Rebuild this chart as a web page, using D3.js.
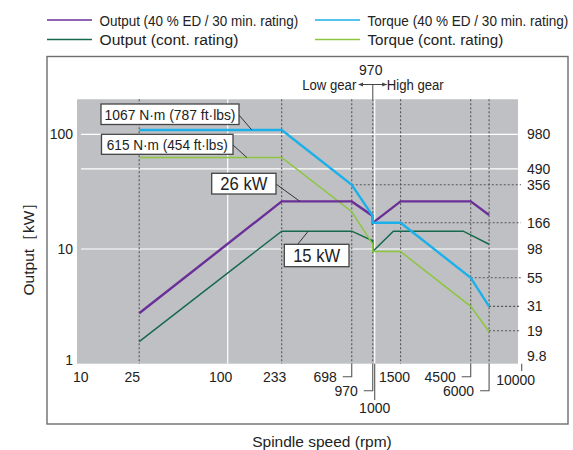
<!DOCTYPE html>
<html>
<head>
<meta charset="utf-8">
<script src="https://cdn.jsdelivr.net/npm/d3@7"></script>
<style>
  html, body { margin: 0; padding: 0; background: #fff; }
  svg { display: block; }
  text { font-family: "Liberation Sans", Arial, sans-serif; fill: #222; }
</style>
</head>
<body>
<svg id="chart" width="573" height="450"></svg>
<script>
/* ── datos ── */
// velocidades (rpm) de cada curva: engranaje bajo hasta 970, alto desde 970
const rpmOutput40   = [25, 233, 698, 970, 970, 1500, 4500, 6000];
const output40      = [2.75, 26, 26, 19.4, 16.9, 26, 26, 19.8];      // kW
const rpmOutputCont = [25, 233, 698, 970, 970, 1340, 4000, 6000];
const outputCont    = [1.56, 14.3, 14.3, 11.8, 9.5, 14.3, 14.3, 11.0]; // kW
const rpmTorque40   = [25, 233, 698, 970, 970, 1500, 4500, 6000];
const torque40      = [1067, 1067, 356, 190, 166, 166, 55, 31];      // N·m
const rpmTorqueCont = [25, 233, 698, 970, 970, 1500, 4500, 6000];
const torqueCont    = [615, 615, 207, 108, 93, 93, 31, 18.6];        // N·m

const leftTicks   = [1, 10, 100];
const rightTicks  = [980, 490, 356, 166, 98, 55, 31, 19, 9.8];
const gridKw      = [10, 50, 100];
const gridRpm     = [100, 1000];
const markRpm     = [25, 233, 698, 970, 1500, 4500, 6000];
const guideTorque = [[356, 698], [166, 1500], [55, 4500], [31, 6000], [19, 6000]];

const seriesNames = ["Output (40 % ED / 30 min. rating)", "Torque (40 % ED / 30 min. rating)",
                     "Output (cont. rating)", "Torque (cont. rating)"];
const colors = { out40: "#6a2f98", tq40: "#1cb0ea", outC: "#17694c", tqC: "#8cc63e" };

const svg = d3.select("#chart");

/* escalas log-log; el eje de par está desplazado 9.8 veces respecto al de potencia */
const x  = d3.scaleLog().domain([10, 10000]).range([80.7, 521.7]);
const y  = d3.scaleLog().domain([1, 100]).range([363.7, 134.3]);
const yT = d3.scaleLog().domain([9.8, 980]).range([363.7, 134.3]);

const plotL = 77, plotR = 518, plotT = y(202), plotB = y(1);

/* marco exterior */
svg.append("rect")
  .attr("x", 47).attr("y", 56.5).attr("width", 521).attr("height", 367.5)
  .attr("fill", "none").attr("stroke", "#6d6d6d").attr("stroke-width", 1.4);

/* leyenda (tipografía estrecha: se comprime en horizontal al ancho medido) */
const leyenda = [
  { name: seriesNames[0], c: colors.out40, x: 47,  y: 20,   w: 199 },
  { name: seriesNames[1], c: colors.tq40,  x: 315, y: 20,   w: 201 },
  { name: seriesNames[2], c: colors.outC,  x: 47,  y: 39.5, w: 139 },
  { name: seriesNames[3], c: colors.tqC,   x: 315, y: 39.5, w: 136 }
];
const lg = svg.append("g").selectAll("g").data(leyenda).join("g")
  .attr("transform", d => `translate(${d.x},${d.y})`);
lg.append("line").attr("x1", 0).attr("x2", 45).attr("stroke", d => d.c).attr("stroke-width", 1.3);
lg.append("g").attr("class", "lg-txt")
  .append("text").attr("dy", "0.36em").attr("font-size", "15.5px")
  .text(d => d.name);
lg.select("g.lg-txt").attr("transform", function(d) {
  const ancho = this.querySelector("text").getComputedTextLength();
  return `translate(52.5,0) scale(${d.w / ancho},1)`;
});

/* fondo gris */
svg.append("rect")
  .attr("x", plotL).attr("y", plotT).attr("width", plotR - plotL).attr("height", plotB - plotT)
  .attr("fill", "#bfc0c3");

/* rejilla blanca */
svg.append("g").selectAll("line").data(gridKw).join("line")
  .attr("x1", plotL + 4).attr("x2", plotR)
  .attr("y1", d => y(d)).attr("y2", d => y(d))
  .attr("stroke", "#fff").attr("stroke-width", 1.2);
svg.append("g").selectAll("line").data(gridRpm).join("line")
  .attr("x1", d => x(d)).attr("x2", d => x(d))
  .attr("y1", plotT).attr("y2", plotB)
  .attr("stroke", "#fff").attr("stroke-width", 1.2);

/* líneas punteadas verticales en los puntos de quiebre */
svg.append("g").selectAll("line").data(markRpm).join("line")
  .attr("x1", d => x(d)).attr("x2", d => x(d))
  .attr("y1", plotT).attr("y2", plotB)
  .attr("stroke", "#555").attr("stroke-width", 1.1).attr("stroke-dasharray", "2,2");

/* guías horizontales punteadas hacia el eje de par */
svg.append("g").selectAll("line").data(guideTorque).join("line")
  .attr("x1", d => x(d[1])).attr("x2", 521)
  .attr("y1", d => yT(d[0])).attr("y2", d => yT(d[0]))
  .attr("stroke", "#555").attr("stroke-width", 1.1).attr("stroke-dasharray", "2,2");

/* curvas */
const linea = d3.line().x(d => x(d[0])).y(d => d[1]);
const curvas = [
  { rpm: rpmOutputCont, v: outputCont.map(v => y(v)),  c: colors.outC,  w: 1.5 },
  { rpm: rpmTorqueCont, v: torqueCont.map(v => yT(v)), c: colors.tqC,   w: 1.5 },
  { rpm: rpmOutput40,   v: output40.map(v => y(v)),    c: colors.out40, w: 2.4 },
  { rpm: rpmTorque40,   v: torque40.map(v => yT(v)),   c: colors.tq40,  w: 2.4 }
];
svg.append("g").selectAll("path").data(curvas).join("path")
  .attr("d", d => linea(d.rpm.map((r, i) => [r, d.v[i]])))
  .attr("fill", "none").attr("stroke", d => d.c).attr("stroke-width", d => d.w)
  .attr("stroke-linejoin", "miter");

/* eje izquierdo (kW) */
svg.append("g").selectAll("text").data(leftTicks).join("text")
  .attr("x", 73).attr("y", d => d === 1 ? y(d) - 4 : y(d))
  .attr("dy", "0.36em").attr("text-anchor", "end").attr("font-size", "14px")
  .text(d => d);

svg.append("text")
  .attr("transform", "translate(34,245) rotate(-90)")
  .attr("text-anchor", "middle").attr("font-size", "15.5px")
  .text("Output［kW］");

/* eje derecho (N·m) */
svg.append("g").selectAll("text").data(rightTicks).join("text")
  .attr("x", 527).attr("y", d => d === 9.8 ? yT(d) - 8 : yT(d))
  .attr("dy", "0.36em").attr("font-size", "14px")
  .text(d => d);

/* eje inferior (rpm) */
const etiquetasX = [
  { v: 10,    dx: 0,  yOff: 0 },
  { v: 25,    dx: -7, yOff: 0 },
  { v: 100,   dx: -7, yOff: 0 },
  { v: 233,   dx: -7, yOff: 0 },
  { v: 1500,  dx: -6, yOff: 0 },
  { v: 10000, dx: -6, yOff: 3 }
];
svg.append("g").selectAll("text").data(etiquetasX).join("text")
  .attr("x", d => x(d.v) + d.dx).attr("y", d => 377 + d.yOff)
  .attr("dy", "0.36em").attr("text-anchor", "middle").attr("font-size", "14px")
  .text(d => d.v);

/* etiquetas con línea guía en escuadra */
const escuadras = [
  { v: 698,  yl: 376.7 },
  { v: 970,  yl: 390.7 },
  { v: 4500, yl: 376.7 },
  { v: 6000, yl: 390.7 }
];
const esc = svg.append("g").selectAll("g").data(escuadras).join("g");
esc.append("path")
  .attr("d", d => `M${x(d.v)},${plotB} V${d.yl} H${x(d.v) - 9}`)
  .attr("fill", "none").attr("stroke", "#555").attr("stroke-width", 1.1);
esc.append("text")
  .attr("x", d => x(d.v) - 15).attr("y", d => d.yl).attr("dy", "0.36em")
  .attr("text-anchor", "end").attr("font-size", "14px").text(d => d.v);

/* 1000: marca larga hacia abajo */
svg.append("line")
  .attr("x1", x(1000)).attr("x2", x(1000)).attr("y1", plotB).attr("y2", 400)
  .attr("stroke", "#555").attr("stroke-width", 1.1);
svg.append("text").attr("x", x(1000)).attr("y", 408).attr("dy", "0.36em")
  .attr("text-anchor", "middle").attr("font-size", "14px").text(1000);

/* marca en 10000 */
svg.append("line")
  .attr("x1", x(10000)).attr("x2", x(10000)).attr("y1", plotB).attr("y2", 371)
  .attr("stroke", "#555").attr("stroke-width", 1.1);

svg.append("text").attr("x", 322).attr("y", 441).attr("dy", "0.36em")
  .attr("text-anchor", "middle").attr("font-size", "15.5px").text("Spindle speed (rpm)");

/* cambio de marcha en 970 */
const xg = x(970);
svg.append("line").attr("x1", xg).attr("x2", xg).attr("y1", 84.5).attr("y2", plotT)
  .attr("stroke", "#666").attr("stroke-width", 1.2);

const defs = svg.append("defs");
defs.append("marker")
  .attr("id", "punta").attr("viewBox", "0 0 10 10").attr("refX", 9).attr("refY", 5)
  .attr("markerWidth", 5).attr("markerHeight", 5).attr("orient", "auto-start-reverse")
  .append("path").attr("d", "M0,1 L10,5 L0,9 z").attr("fill", "#444");
svg.append("line").attr("x1", xg - 14).attr("x2", xg + 14).attr("y1", 84.5).attr("y2", 84.5)
  .attr("stroke", "#444").attr("stroke-width", 1)
  .attr("marker-start", "url(#punta)").attr("marker-end", "url(#punta)");
svg.append("text").attr("x", xg - 2).attr("y", 70).attr("dy", "0.36em")
  .attr("text-anchor", "middle").attr("font-size", "14px").text("970");
svg.append("text").attr("x", xg - 16.5).attr("y", 85).attr("dy", "0.36em")
  .attr("text-anchor", "end").attr("font-size", "14px")
  .attr("textLength", 54).attr("lengthAdjust", "spacingAndGlyphs").text("Low gear");
svg.append("text").attr("x", xg + 14).attr("y", 85).attr("dy", "0.36em")
  .attr("text-anchor", "start").attr("font-size", "14px")
  .attr("textLength", 57).attr("lengthAdjust", "spacingAndGlyphs").text("High gear");

/* recuadros de anotación con línea guía a la curva */
const notas = [
  { t: "1067 N·m (787 ft·lbs)", bx: 101, by: 104,   bw: 138, bh: 20.5, fs: 15.5, tw: 131,
    from: [239, 115], rpm: 146, val: yT(1067) },
  { t: "615 N·m (454 ft·lbs)",  bx: 101.5, by: 134.3, bw: 131.5, bh: 20, fs: 15.5, tw: 121,
    from: [233, 145], rpm: 135, val: yT(615) },
  { t: "26 kW", bx: 211.7, by: 173.3, bw: 64.3, bh: 20.7, fs: 17.5, tw: 47,
    from: [276, 184], rpm: 310, val: y(26) },
  { t: "15 kW", bx: 284.3, by: 244.3, bw: 64.7, bh: 22.4, fs: 17.5, tw: 47,
    from: [297.7, 244.3], rpm: 353, val: y(14.3) }
];
const ng = svg.append("g").selectAll("g").data(notas).join("g");
ng.append("line")
  .attr("x1", d => d.from[0]).attr("y1", d => d.from[1])
  .attr("x2", d => x(d.rpm)).attr("y2", d => d.val)
  .attr("stroke", "#333").attr("stroke-width", 1);
ng.append("rect")
  .attr("x", d => d.bx).attr("y", d => d.by).attr("width", d => d.bw).attr("height", d => d.bh)
  .attr("fill", "#fff").attr("stroke", "#444").attr("stroke-width", 1.3);
ng.append("text")
  .attr("x", d => d.bx + d.bw / 2).attr("y", d => d.by + d.bh / 2).attr("dy", "0.36em")
  .attr("text-anchor", "middle").attr("font-size", d => d.fs + "px")
  .attr("textLength", d => d.tw).attr("lengthAdjust", "spacingAndGlyphs")
  .text(d => d.t);
</script>
</body>
</html>
